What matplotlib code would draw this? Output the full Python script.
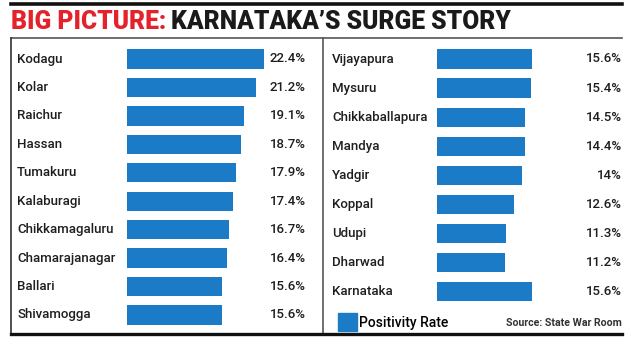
import matplotlib.pyplot as plt
from matplotlib.lines import Line2D
from matplotlib.patches import Patch
from matplotlib.transforms import blended_transform_factory

# Datos
left_names = ['Kodagu', 'Kolar', 'Raichur', 'Hassan', 'Tumakuru', 'Kalaburagi',
              'Chikkamagaluru', 'Chamarajanagar', 'Ballari', 'Shivamogga']
left_vals = [22.4, 21.2, 19.1, 18.7, 17.9, 17.4, 16.7, 16.4, 15.6, 15.6]
left_labels = ['22.4%', '21.2%', '19.1%', '18.7%', '17.9%', '17.4%',
               '16.7%', '16.4%', '15.6%', '15.6%']

right_names = ['Vijayapura', 'Mysuru', 'Chikkaballapura', 'Mandya', 'Yadgir',
               'Koppal', 'Udupi', 'Dharwad', 'Karnataka']
right_vals = [15.6, 15.4, 14.5, 14.4, 14.0, 12.6, 11.3, 11.2, 15.6]
right_labels = ['15.6%', '15.4%', '14.5%', '14.4%', '14%',
                '12.6%', '11.3%', '11.2%', '15.6%']

BLUE = '#1b7bc6'
TXT = '#1e1e1e'
FONT = 'Roboto'
W, H = 635, 343


def fx(x):
    return x / W


def fy(y):
    return 1 - y / H


fig = plt.figure(figsize=(W / 100, H / 100), dpi=100)

# Título (ajustado al ancho del original)
t1 = fig.text(fx(11), fy(29), 'BIG PICTURE:', color='#e3222b', fontsize=17,
              fontweight='heavy', family=FONT, va='baseline')
t2 = fig.text(0, fy(29), 'KARNATAKA\u2019S SURGE STORY', color='#1a1a1a',
              fontsize=17, fontweight='heavy', family=FONT, va='baseline')
fig.canvas.draw()
w1 = t1.get_window_extent().width
w2 = t2.get_window_extent().width
k = (510 - 11 - 5) / (w1 + w2)
t1.set_fontsize(17 * k)
t2.set_fontsize(17 * k)
fig.canvas.draw()
t2.set_x(t1.get_window_extent().x1 / W + fx(5))

# Líneas de marco
fig.add_artist(Line2D([fx(11), fx(622)], [fy(3.5), fy(3.5)], color='#111111', lw=2.6))
fig.add_artist(Line2D([fx(11), fx(622)], [fy(37.5), fy(37.5)], color='#555555', lw=1.2))
fig.add_artist(Line2D([fx(11), fx(11)], [fy(37.5), fy(333)], color='#333333', lw=1.2))
fig.add_artist(Line2D([fx(323), fx(323)], [fy(37.5), fy(333)], color='#555555', lw=1.2))
fig.add_artist(Line2D([fx(11), fx(622)], [fy(333.5), fy(333.5)], color='#111111', lw=2.4))

scale = 6.1  # px por %

# Panel izquierdo
pitch_l = 28.44
top_l = 59 - pitch_l / 2
axl = fig.add_axes([fx(127), fy(top_l + 10 * pitch_l), 25 * scale / W, 10 * pitch_l / H])
axl.barh(range(len(left_vals)), left_vals, height=0.68, color=BLUE)
axl.set_xlim(0, 25)
axl.set_ylim(9.5, -0.5)
axl.axis('off')
tr = blended_transform_factory(fig.transFigure, axl.transData)
for i, (n, v) in enumerate(zip(left_names, left_labels)):
    axl.text(fx(17), i, n, transform=tr, ha='left', va='center', fontsize=9.5,
             fontweight='medium', family=FONT, color=TXT, clip_on=False)
    axl.text(fx(306), i, v, transform=tr, ha='right', va='center', fontsize=9.5,
             fontweight='medium', family=FONT, color=TXT, clip_on=False)

# Panel derecho
pitch_r = 29.1
top_r = 59 - pitch_r / 2
axr = fig.add_axes([fx(437), fy(top_r + 9 * pitch_r), 25 * scale / W, 9 * pitch_r / H])
axr.barh(range(len(right_vals)), right_vals, height=0.66, color=BLUE)
axr.set_xlim(0, 25)
axr.set_ylim(8.5, -0.5)
axr.axis('off')
tr = blended_transform_factory(fig.transFigure, axr.transData)
for i, (n, v) in enumerate(zip(right_names, right_labels)):
    axr.text(fx(332), i, n, transform=tr, ha='left', va='center', fontsize=9.5,
             fontweight='medium', family=FONT, color=TXT, clip_on=False)
    axr.text(fx(622), i, v, transform=tr, ha='right', va='center', fontsize=9.5,
             fontweight='medium', family=FONT, color=TXT, clip_on=False)

# Leyenda y fuente
fig.legend(handles=[Patch(color=BLUE)], labels=['Positivity Rate'],
           loc='center left', bbox_to_anchor=(fx(338), fy(322)), frameon=False,
           borderpad=0, borderaxespad=0, handlelength=1.4, handleheight=1.6,
           handletextpad=0.1, prop={'family': FONT, 'size': 10, 'weight': 'medium'})
fig.text(fx(622), fy(323), 'Source: State War Room', ha='right', va='center',
         fontsize=7.6, fontweight='bold', color='#333333', family=FONT)

fig.savefig('out.png', dpi=100)
